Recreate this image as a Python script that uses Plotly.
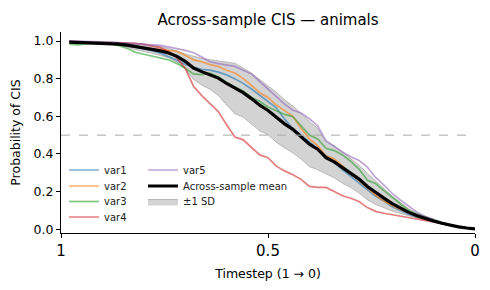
import numpy as np
import plotly.graph_objects as go

timesteps = [0.98, 0.96, 0.94, 0.92, 0.90, 0.88, 0.86, 0.84, 0.82, 0.80,
             0.78, 0.76, 0.74, 0.72, 0.70, 0.68, 0.66, 0.64, 0.62, 0.60,
             0.58, 0.56, 0.54, 0.52, 0.50, 0.48, 0.46, 0.44, 0.42, 0.40,
             0.38, 0.36, 0.34, 0.32, 0.30, 0.28, 0.26, 0.24, 0.22, 0.20,
             0.18, 0.16, 0.14, 0.12, 0.10, 0.08, 0.06, 0.04, 0.02, 0.00]

var1 = [0.997, 0.995, 0.993, 0.990, 0.988, 0.985, 0.980, 0.975, 0.968, 0.960,
        0.950, 0.935, 0.918, 0.898, 0.875, 0.860, 0.850, 0.845, 0.835, 0.820,
        0.800, 0.775, 0.745, 0.710, 0.680, 0.645, 0.585, 0.535, 0.500, 0.465,
        0.430, 0.390, 0.355, 0.315, 0.280, 0.240, 0.210, 0.175, 0.150, 0.120,
        0.100, 0.080, 0.065, 0.052, 0.040, 0.030, 0.020, 0.012, 0.006, 0.001]
var2 = [0.995, 0.994, 0.993, 0.990, 0.988, 0.985, 0.980, 0.975, 0.970, 0.965,
        0.958, 0.952, 0.948, 0.945, 0.925, 0.900, 0.890, 0.875, 0.865, 0.845,
        0.830, 0.800, 0.765, 0.725, 0.700, 0.660, 0.630, 0.600, 0.535, 0.480,
        0.445, 0.390, 0.375, 0.335, 0.300, 0.260, 0.220, 0.180, 0.150, 0.125,
        0.105, 0.085, 0.068, 0.053, 0.040, 0.030, 0.020, 0.012, 0.006, 0.001]
var3 = [0.983, 0.980, 0.985, 0.988, 0.990, 0.985, 0.975, 0.960, 0.940, 0.930,
        0.920, 0.908, 0.900, 0.880, 0.855, 0.825, 0.822, 0.830, 0.810, 0.780,
        0.755, 0.735, 0.700, 0.680, 0.650, 0.630, 0.610, 0.598, 0.550, 0.500,
        0.480, 0.430, 0.418, 0.395, 0.360, 0.320, 0.260, 0.243, 0.205, 0.170,
        0.135, 0.100, 0.080, 0.065, 0.050, 0.035, 0.022, 0.013, 0.007, 0.002]
var4 = [0.998, 0.997, 0.996, 0.995, 0.994, 0.993, 0.992, 0.990, 0.988, 0.982,
        0.975, 0.965, 0.945, 0.910, 0.855, 0.760, 0.710, 0.670, 0.625, 0.555,
        0.490, 0.475, 0.435, 0.395, 0.380, 0.335, 0.310, 0.290, 0.265, 0.228,
        0.222, 0.222, 0.200, 0.178, 0.165, 0.147, 0.115, 0.095, 0.085, 0.077,
        0.070, 0.062, 0.055, 0.045, 0.040, 0.030, 0.020, 0.013, 0.007, 0.002]
var5 = [1.000, 0.998, 0.997, 0.996, 0.995, 0.994, 0.992, 0.990, 0.988, 0.985,
        0.980, 0.977, 0.970, 0.960, 0.950, 0.938, 0.915, 0.890, 0.880, 0.872,
        0.865, 0.845, 0.825, 0.785, 0.745, 0.710, 0.665, 0.632, 0.618, 0.588,
        0.550, 0.470, 0.440, 0.410, 0.385, 0.365, 0.330, 0.275, 0.235, 0.190,
        0.155, 0.120, 0.090, 0.068, 0.050, 0.035, 0.022, 0.013, 0.007, 0.002]

series_names = ["var1", "var2", "var3", "var4", "var5"]
series_values = [var1, var2, var3, var4, var5]
series_colors = ["#1f77b4", "#ff7f0e", "#2ca02c", "#d62728", "#9467bd"]

x_tick_vals = [1, 0.5, 0]
x_tick_text = ["1", "0.5", "0"]
y_tick_vals = [0, 0.2, 0.4, 0.6, 0.8, 1.0]
threshold = 0.5

arr = np.array(series_values)
mean = arr.mean(axis=0)
sd = arr.std(axis=0)
upper = mean + sd
lower = mean - sd

FONT = "DejaVu Sans"

PLOT_L, PLOT_R, PLOT_T, PLOT_B = 61, 475, 32, 233
def px_to_paper(px, py):
    return (px - PLOT_L) / (PLOT_R - PLOT_L), (PLOT_B - py) / (PLOT_B - PLOT_T)

col_x = [64, 143]
row_y = [170, 186, 201.5, 217]
slots = {
    "var1": (0, 0), "var2": (0, 1), "var3": (0, 2), "var4": (0, 3),
    "var5": (1, 0), "Across-sample mean": (1, 1), "±1 SD": (1, 2),
}
legend_ids = {}
legend_layout = {}
for k, (name, (c, r)) in enumerate(slots.items()):
    lid = "legend" if k == 0 else f"legend{k + 1}"
    legend_ids[name] = lid
    lx, ly = px_to_paper(col_x[c], row_y[r])
    legend_layout[lid] = dict(x=lx, y=ly, xanchor="left", yanchor="middle",
                              bgcolor="rgba(0,0,0,0)", borderwidth=0,
                              font=dict(family=FONT, size=10, color="#222"),
                              itemwidth=30)

fig = go.Figure()

fig.add_trace(go.Scatter(x=timesteps, y=lower, mode="lines",
                         line=dict(color="rgba(128,128,128,0.45)", width=1),
                         showlegend=False, hoverinfo="skip"))
fig.add_trace(go.Scatter(x=timesteps, y=upper, mode="lines", fill="tonexty",
                         fillcolor="rgba(128,128,128,0.35)",
                         line=dict(color="rgba(128,128,128,0.45)", width=1),
                         name="±1 SD", legend=legend_ids["±1 SD"]))

for nm, vals, col in zip(series_names, series_values, series_colors):
    fig.add_trace(go.Scatter(x=timesteps, y=vals, mode="lines", name=nm,
                             line=dict(color=col, width=1.7), opacity=0.6,
                             legend=legend_ids[nm]))

fig.add_trace(go.Scatter(x=timesteps, y=mean, mode="lines", name="Across-sample mean",
                         line=dict(color="black", width=3.2),
                         legend=legend_ids["Across-sample mean"]))

fig.add_shape(type="line", xref="paper", x0=0, x1=1, yref="y", y0=threshold, y1=threshold,
              line=dict(color="#aaaaaa", width=1, dash="dash"))

fig.update_layout(
    width=490, height=290,
    margin=dict(l=PLOT_L, r=490 - PLOT_R, t=PLOT_T, b=290 - PLOT_B, autoexpand=False),
    paper_bgcolor="white", plot_bgcolor="white",
    font=dict(family=FONT, color="black"),
    title=dict(text="Across-sample CIS — animals", x=0.5, xref="paper", xanchor="center",
               y=1 - 20 / 290, yref="container", yanchor="middle",
               font=dict(family=FONT, size=15, color="black")),
    xaxis=dict(range=[1, 0], tickvals=x_tick_vals, ticktext=x_tick_text, automargin=False,
               showline=True, linecolor="black", linewidth=1, mirror=False,
               ticks="outside", ticklen=4, tickcolor="black", showgrid=False, zeroline=False,
               tickfont=dict(family=FONT, size=15, color="black"),
               title=dict(text="Timestep (1 → 0)", font=dict(family=FONT, size=12.5, color="black"),
                          standoff=10)),
    yaxis=dict(range=[-0.02, 1.048], tickvals=y_tick_vals, tickformat=".1f", automargin=False,
               showline=True, linecolor="black", linewidth=1, mirror=False,
               ticks="outside", ticklen=4, tickcolor="black", showgrid=False, zeroline=False,
               tickfont=dict(family=FONT, size=12.5, color="black"),
               title=dict(text="Probability of CIS", font=dict(family=FONT, size=12.5, color="black"),
                          standoff=10)),
    **legend_layout,
)

fig.write_html("out.html", config={"displayModeBar": False},
               post_script="document.body.style.margin='0';")
